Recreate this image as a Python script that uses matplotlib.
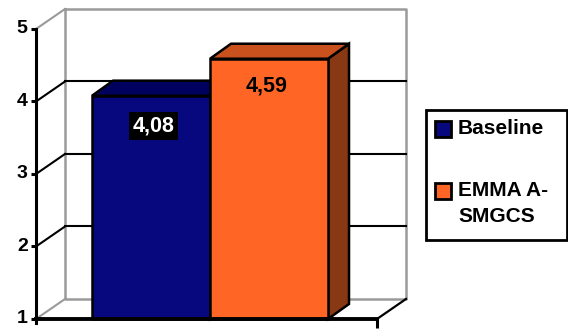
import matplotlib.pyplot as plt
from matplotlib.patches import Polygon, Rectangle

# scores per system
series = ['Baseline', 'EMMA A-\nSMGCS']
values = [4.08, 4.59]
value_labels = ['4,08', '4,59']
yticks = [1, 2, 3, 4, 5]

face_colors = ['#08087e', '#ff6625']
top_colors = ['#00005e', '#c9511d']
side_colors = ['#000048', '#883812']
grey = '#9a9a9a'

# fake 3d: depth of the chart box and of the bars (x in category units, y in score units)
wall_dx, wall_dy = 0.246, 0.276
bar_dx, bar_dy = 0.178, 0.207
floor_x0, floor_x1 = -0.975, 1.915
ymin, ymax = yticks[0], yticks[-1]

plt.rcParams['font.family'] = ['Liberation Sans', 'DejaVu Sans']
plt.rcParams['font.weight'] = 'bold'

fig = plt.figure(figsize=(5.68, 3.29), dpi=100)
ax = fig.add_axes([0, 0, 1, 1])
ax.set_xlim(-1.28, 3.534)
ax.set_ylim(0.862, 5.4)
ax.axis('off')

# back wall with gridlines
bx0, bx1 = floor_x0 + wall_dx, floor_x1 + wall_dx
ax.plot([bx0, bx1, bx1, bx0, bx0],
        [ymax + wall_dy, ymax + wall_dy, ymin + wall_dy, ymin + wall_dy, ymax + wall_dy],
        color=grey, lw=1.8, zorder=1)
for v in yticks[1:-1]:
    ax.plot([bx0, bx1], [v + wall_dy] * 2, color='black', lw=1.5, zorder=1)
# side wall diagonals
for v in yticks:
    c = grey if v in (ymin, ymax) else 'black'
    ax.plot([floor_x0, bx0], [v, v + wall_dy], color=c, lw=1.5, zorder=1)
ax.plot([floor_x1, bx1], [ymin, ymin + wall_dy], color='black', lw=1.6, zorder=1)

# bars
for i, (v, lab) in enumerate(zip(values, value_labels)):
    l, r = i - 0.5, i + 0.5
    side = [(r, ymin), (r + bar_dx, ymin + bar_dy), (r + bar_dx, v + bar_dy), (r, v)]
    top = [(l, v), (r, v), (r + bar_dx, v + bar_dy), (l + bar_dx, v + bar_dy)]
    ax.add_patch(Polygon(side, fc=side_colors[i], ec='black', lw=1.8, zorder=3))
    ax.add_patch(Polygon(top, fc=top_colors[i], ec='black', lw=1.8, zorder=3))
    ax.add_patch(Rectangle((l, ymin), 1, v - ymin, fc=face_colors[i], ec='black',
                           lw=1.8, zorder=3))
    if i == 0:
        ax.text(i + 0.02, v - 0.42, lab, ha='center', va='center', fontsize=15.5,
                color='white', zorder=5,
                bbox=dict(boxstyle='square,pad=0.15', fc='black', ec='none'))
    else:
        ax.text(i - 0.02, v - 0.37, lab, ha='center', va='center', fontsize=15.5,
                color='black', zorder=5)

# value axis and floor edge
ax.plot([floor_x0, floor_x0], [ymin - 0.06, ymax], color='black', lw=2.2, zorder=4)
ax.hlines(yticks, floor_x0 - 0.045, floor_x0, color='black', lw=2.2, zorder=4)
ax.plot([floor_x0, floor_x1], [ymin, ymin], color='black', lw=2.8, zorder=4)
ax.vlines([floor_x1], ymin - 0.12, ymin, color='black', lw=2.2, zorder=4)
for v in yticks:
    ax.text(floor_x0 - 0.07, v, str(v), ha='right', va='center', fontsize=14, zorder=4)

# legend box
ax.add_patch(Rectangle((426 / 568, 1 - 240 / 329), 141 / 568, 130 / 329,
                       transform=ax.transAxes, fc='white', ec='black', lw=2, zorder=5))
entry_y = [1 - 129 / 329, 1 - 191 / 329]
for i, name in enumerate(series):
    y = entry_y[i]
    ax.add_patch(Rectangle((435 / 568, y - 8 / 329), 16 / 568, 16 / 329,
                           transform=ax.transAxes, fc=face_colors[i], ec='black',
                           lw=2, zorder=6))
    ax.text(458 / 568, y + 10 / 329, name, transform=ax.transAxes, ha='left', va='top',
            fontsize=15, linespacing=1.45, zorder=6)

fig.savefig('out.png', dpi=100)
